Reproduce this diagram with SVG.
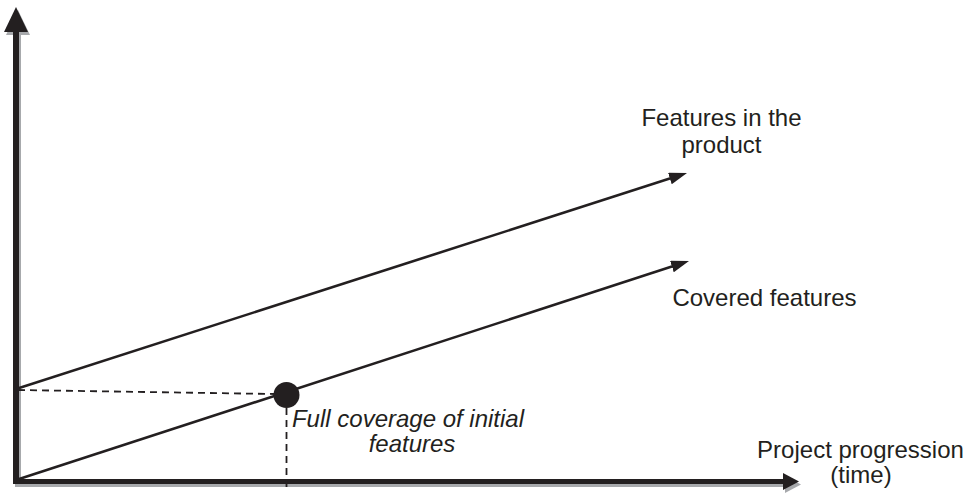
<svg xmlns="http://www.w3.org/2000/svg" width="974" height="495" viewBox="0 0 974 495">
<style>
.lbl{font-family:"Liberation Sans",Arial,sans-serif;font-size:24px;fill:#231f20;text-anchor:middle}
.it{font-style:italic}
.ln{stroke:#231f20;stroke-width:2.6;fill:none}
.dash{stroke:#231f20;stroke-width:1.8;stroke-dasharray:7,5;fill:none}
.ax{stroke:#231f20;fill:none}
.axh{fill:#231f20}
.sh{stroke:#a7a9ac;fill:none}
.shh{fill:#a7a9ac}
</style>
<defs>
<marker id="arr" viewBox="0 0 18 12" refX="8" refY="6" markerWidth="18" markerHeight="12" markerUnits="userSpaceOnUse" orient="auto">
<path d="M0,0 L18,6 L0,12 z" fill="#231f20"/>
</marker>
</defs>
<g id="axes-shadow" transform="translate(2,3)">
<line class="sh" x1="16" y1="484" x2="16" y2="30" stroke-width="6"/>
<polygon class="shh" points="16,7 28,32 4,32"/>
<line class="sh" x1="13" y1="481.5" x2="785" y2="481.5" stroke-width="5"/>
<polygon class="shh" points="799,481.5 783,473 783,490"/>
</g>
<g id="axes">
<line class="ax" x1="16" y1="484" x2="16" y2="30" stroke-width="6"/>
<polygon class="axh" points="16,7 28,32 4,32"/>
<line class="ax" x1="13" y1="481.5" x2="785" y2="481.5" stroke-width="5"/>
<polygon class="axh" points="799,481.5 783,473 783,490"/>
</g>
<g id="connectors">
<line class="ln" x1="16" y1="389" x2="677.5" y2="176.1" marker-end="url(#arr)"/>
<line class="ln" x1="16" y1="480" x2="679.5" y2="264.1" marker-end="url(#arr)"/>
<line class="dash" x1="18" y1="390" x2="274" y2="394"/>
<line class="dash" x1="286.5" y1="408" x2="286.5" y2="492"/>
</g>
<g id="point">
<circle cx="286.5" cy="395" r="13" fill="#231f20"/>
</g>
<g id="label-features">
<text class="lbl" x="721.5" y="126">Features in the</text>
<text class="lbl" x="721.5" y="153">product</text>
</g>
<g id="label-covered">
<text class="lbl" x="764.5" y="306">Covered features</text>
</g>
<g id="label-time">
<text class="lbl" x="860.5" y="458">Project progression</text>
<text class="lbl" x="861" y="483">(time)</text>
</g>
<g id="label-full">
<text class="lbl it" x="408" y="427">Full coverage of initial</text>
<text class="lbl it" x="412" y="452">features</text>
</g>
</svg>
